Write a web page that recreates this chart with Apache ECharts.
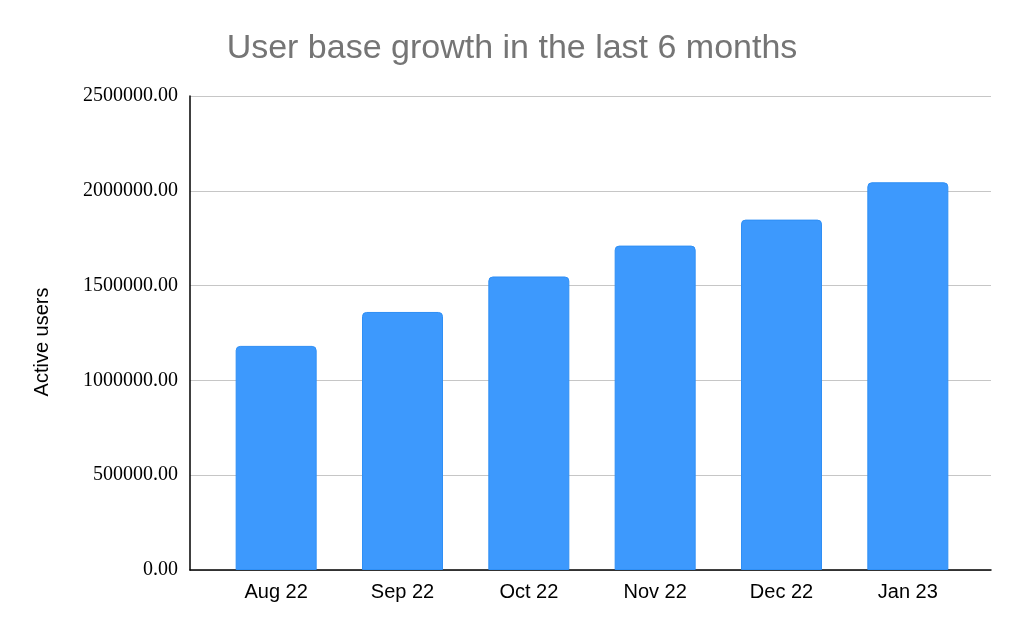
<!DOCTYPE html>
<html>
<head>
<meta charset="utf-8">
<script src="https://cdn.jsdelivr.net/npm/echarts@6/dist/echarts.min.js"></script>
<style>
    html, body { margin: 0; padding: 0; background: #fff; }
    #chart { width: 1024px; height: 633px; }
</style>
</head>
<body>
<div id="chart"></div>
<script>
    var months = ['Aug 22', 'Sep 22', 'Oct 22', 'Nov 22', 'Dec 22', 'Jan 23'];
    var activeUsers = [1182000, 1361000, 1548000, 1711000, 1848000, 2045000];

    var chart = echarts.init(document.getElementById('chart'));

    var sans = 'Liberation Sans, Arial, sans-serif';

    // grid 0 = full frame (axis lines, gridlines, y labels)
    // grid 1 = inset area where the bars sit, like the sheets chart padding
    var option = {
        animation: false,
        title: {
            text: 'User base growth in the last 6 months',
            left: 'center',
            top: 27,
            textStyle: {
                fontFamily: sans,
                fontSize: 34,
                fontWeight: 'normal',
                color: '#757575'
            }
        },
        grid: [
            { left: 190, right: 33, top: 96, bottom: 63 },
            { left: 213, right: 53, top: 96, bottom: 63 }
        ],
        xAxis: [{
            type: 'category',
            gridIndex: 0,
            data: months,
            axisLine: { lineStyle: { color: '#000', width: 1.5 } },
            axisTick: { show: false },
            axisLabel: { show: false }
        }, {
            type: 'category',
            gridIndex: 1,
            data: months,
            axisLine: { show: false },
            axisTick: { show: false },
            axisLabel: {
                fontFamily: sans,
                fontSize: 20,
                color: '#000',
                margin: 12
            }
        }],
        yAxis: [{
            type: 'value',
            gridIndex: 0,
            min: 0,
            max: 2500000,
            interval: 500000,
            name: 'Active users',
            nameLocation: 'middle',
            nameGap: 138,
            nameTextStyle: {
                fontFamily: sans,
                fontSize: 20,
                color: '#000',
                padding: [0, 18, 0, 0]
            },
            axisLine: { show: true, lineStyle: { color: '#000', width: 1.5 } },
            axisTick: { show: false },
            splitLine: { lineStyle: { color: '#c6c6c6', width: 1.2 } },
            axisLabel: {
                fontFamily: 'Liberation Serif, Times New Roman, serif',
                fontSize: 20,
                color: '#000',
                margin: 12,
                formatter: function (v) { return v.toFixed(2); }
            }
        }, {
            type: 'value',
            gridIndex: 1,
            min: 0,
            max: 2500000,
            interval: 500000,
            show: false
        }],
        series: [{
            name: 'Active users',
            type: 'bar',
            xAxisIndex: 1,
            yAxisIndex: 1,
            data: activeUsers,
            barWidth: 81,
            z: 3,
            itemStyle: {
                color: '#3d99fd',
                borderColor: '#2f8ff5',
                borderWidth: 1,
                borderRadius: [4, 4, 0, 0]
            }
        }]
    };

    chart.setOption(option);
</script>
</body>
</html>
